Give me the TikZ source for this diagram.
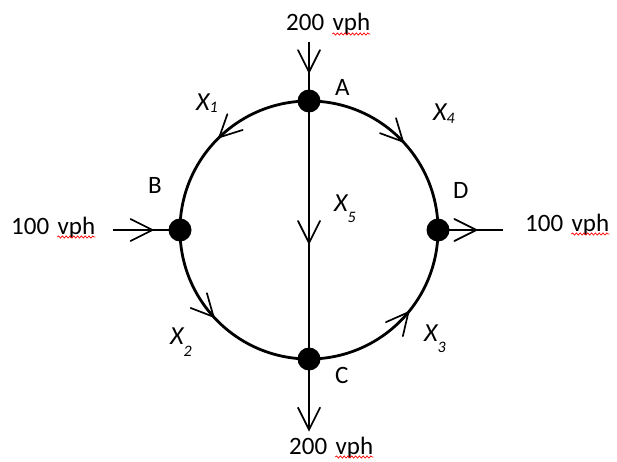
\documentclass[tikz,border=0pt]{standalone}
\usepackage{fontspec}
\setmainfont{Carlito}
\usetikzlibrary{decorations.markings,decorations.pathmorphing}
\pgfdeclarelayer{fg}
\pgfsetlayers{main,fg}
\begin{document}
\begin{tikzpicture}[x=1pt,y=1pt,
  lbl/.style={font=\fontsize{25}{29}\selectfont, inner sep=0pt, anchor=base west},
  xl/.style={font=\fontsize{26}{29}\selectfont\itshape, inner sep=0pt, anchor=base west},
  road/.style={line width=2.8pt},
  dot/.style={circle, fill=black, minimum size=23pt, inner sep=0pt},
  vmark/.style={postaction={decorate, decoration={markings, mark=at position #1 with {\draw[line width=1.7pt, line cap=round, line join=miter] (-22pt,11pt) -- (0pt,0pt) -- (-22pt,-11pt);}}}},
  squig/.style={red, line width=0.7pt, decorate, decoration={snake, amplitude=1.1pt, segment length=3.8pt}}
]
\useasboundingbox (0,0) rectangle (617,461);
\newcommand{\sbs}[2]{\raisebox{#1}{\fontsize{16}{16}\selectfont #2}}
\begin{pgfonlayer}{fg}
\node[dot] (A) at (309,360) {};
\node[dot] (B) at (180,231) {};
\node[dot] (C) at (309,102) {};
\node[dot] (D) at (438,231) {};
\end{pgfonlayer}
\coordinate (topend) at (309,419);
\coordinate (botend) at (309,31);
\coordinate (leftend) at (113,231);
\coordinate (rightend) at (503,231);
% ring
\draw[road, vmark=0.49] (A.center) arc[start angle=90, end angle=180, radius=129];
\draw[road, vmark=0.52] (A.center) arc[start angle=90, end angle=0, radius=129];
\draw[road, vmark=0.47] (B.center) arc[start angle=180, end angle=270, radius=129];
\draw[road, vmark=0.56] (C.center) arc[start angle=270, end angle=360, radius=129];
% links
\draw[road, vmark=0.55] (A.center) -- (C.center);
\draw[road, vmark=0.51] (topend) -- (A.center);
\draw[road, vmark=0.995] (C.center) -- (botend);
\draw[road, vmark=0.59] (leftend) -- (B.center);
\draw[road, vmark=0.59] (D.center) -- (rightend);
% node letters
\node[lbl] (la) at (335,365) {A};
\node[lbl] (lb) at (148,268) {B};
\node[lbl] (lc) at (335,78) {C};
\node[lbl] (ld) at (453,263) {D};
% flow labels
\node[xl] (x1) at (196,350) {X\sbs{-2pt}{1}};
\node[xl] (x4) at (433,340) {X\sbs{-3pt}{4}};
\node[xl] (x2) at (170,117) {X\sbs{-12pt}{2}};
\node[xl] (x3) at (424,120) {X\sbs{-11pt}{3}};
\node[xl] (x5) at (334,250) {X\sbs{-11pt}{5}};
% volumes
\node[lbl] (tn) at (286,430) {200};
\node[lbl] (tv) at ([xshift=8pt]tn.base east) {vph};
\node[lbl] (bn) at (289,7) {200};
\node[lbl] (bv) at ([xshift=8pt]bn.base east) {vph};
\node[lbl] (ln) at (11,227) {100};
\node[lbl] (lv) at ([xshift=8pt]ln.base east) {vph};
\node[lbl] (rn) at (525,230) {100};
\node[lbl] (rv) at ([xshift=8pt]rn.base east) {vph};
\foreach \v in {tv,bv,lv,rv}{
  \draw[squig] ([yshift=-3pt]\v.base west) -- ([yshift=-3pt]\v.base east);
}
\end{tikzpicture}
\end{document}
